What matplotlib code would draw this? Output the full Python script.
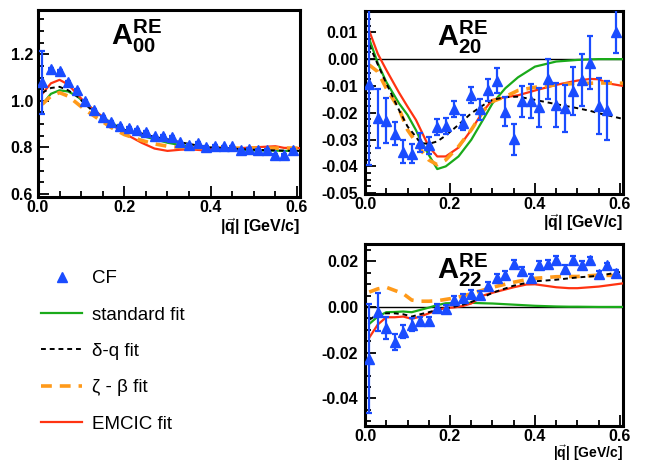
import matplotlib
matplotlib.use("Agg")
import matplotlib.pyplot as plt
from matplotlib.ticker import MultipleLocator, FuncFormatter
from matplotlib.lines import Line2D
import numpy as np

plt.rcParams['font.family'] = ['Liberation Sans', 'DejaVu Sans']
plt.rcParams['mathtext.fontset'] = 'custom'
plt.rcParams['mathtext.rm'] = 'Liberation Sans'
plt.rcParams['mathtext.bf'] = 'Liberation Sans:bold'
plt.rcParams['mathtext.it'] = 'Liberation Sans:italic'

# ---------------- data ----------------
q_pts = [0.01, 0.03, 0.05, 0.07, 0.09, 0.11, 0.13, 0.15, 0.17, 0.19,
         0.21, 0.23, 0.25, 0.27, 0.29, 0.31, 0.33, 0.35, 0.37, 0.39,
         0.41, 0.43, 0.45, 0.47, 0.49, 0.51, 0.53, 0.55, 0.57, 0.59]

# A00
a00_cf = [1.08, 1.135, 1.13, 1.081, 1.047, 1.0, 0.962, 0.93, 0.911, 0.893,
          0.883, 0.876, 0.866, 0.847, 0.85, 0.844, 0.821, 0.811, 0.818, 0.80,
          0.807, 0.804, 0.804, 0.787, 0.794, 0.787, 0.79, 0.769, 0.767, 0.79]
a00_err = [0.135] + [0.004] * 29

q_fit00 = [0.01, 0.03, 0.05, 0.07, 0.09, 0.11, 0.13, 0.15, 0.17, 0.20, 0.24,
           0.27, 0.30, 0.33, 0.35, 0.38, 0.40, 0.45, 0.50, 0.55, 0.57, 0.607]
a00_std = [0.985, 1.03, 1.045, 1.04, 1.02, 0.99, 0.96, 0.93, 0.905, 0.875, 0.85,
           0.835, 0.82, 0.81, 0.805, 0.80, 0.795, 0.79, 0.787, 0.786, 0.785, 0.785]
a00_dq = [1.035, 1.055, 1.06, 1.045, 1.02, 0.985, 0.95, 0.92, 0.9, 0.875, 0.86,
          0.845, 0.835, 0.822, 0.815, 0.805, 0.80, 0.795, 0.79, 0.787, 0.786, 0.785]
a00_zb = [0.985, 1.02, 1.035, 1.02, 0.99, 0.96, 0.935, 0.91, 0.885, 0.855, 0.83,
          0.815, 0.805, 0.80, 0.80, 0.798, 0.798, 0.797, 0.797, 0.797, 0.797, 0.797]
a00_em = [1.03, 1.075, 1.09, 1.07, 1.03, 0.99, 0.96, 0.93, 0.9, 0.86, 0.82,
          0.795, 0.785, 0.79, 0.792, 0.788, 0.793, 0.795, 0.80, 0.805, 0.798, 0.797]

# A20
a20_cf = [-0.0094, -0.022, -0.0229, -0.0279, -0.0345, -0.0353, -0.0311, -0.0322,
          -0.0254, -0.0248, -0.0186, -0.0237, -0.0133, -0.0187, -0.0115, -0.0081,
          -0.0196, -0.0299, -0.0158, -0.0156, -0.018, -0.0074, -0.0171, -0.0183,
          -0.0119, -0.0078, -0.0013, -0.0174, -0.019, 0.0102]
a20_err = [0.030, 0.011, 0.0085, 0.0043, 0.0043, 0.0035, 0.0037, 0.003, 0.003, 0.003,
           0.003, 0.0027, 0.003, 0.004, 0.004, 0.0047, 0.0053, 0.0057, 0.0058, 0.0065,
           0.0073, 0.0076, 0.0083, 0.0087, 0.009, 0.0098, 0.010, 0.0104, 0.011, 0.008]

q_fit20 = [0.01, 0.03, 0.05, 0.08, 0.10, 0.12, 0.13, 0.15, 0.17, 0.19, 0.22, 0.25,
           0.28, 0.30, 0.33, 0.36, 0.40, 0.45, 0.50, 0.53, 0.55, 0.57, 0.607]
a20_std = [0.0075, -0.0015, -0.0085, -0.0165, -0.0208, -0.0265, -0.030, -0.0357,
           -0.041, -0.040, -0.0363, -0.0301, -0.022, -0.0165, -0.0109, -0.0068,
           -0.0028, -0.0009, -0.0003, -0.0001, 0.0, 0.0, 0.0]
a20_dq = [0.0053, -0.002, -0.009, -0.019, -0.0251, -0.029, -0.0313, -0.0316,
          -0.0307, -0.0285, -0.0245, -0.0202, -0.017, -0.0152, -0.0142, -0.014,
          -0.0152, -0.0168, -0.0183, -0.0193, -0.0202, -0.0209, -0.0223]
a20_zb = [-0.0022, -0.0047, -0.0109, -0.0185, -0.0264, -0.031, -0.0336, -0.0376,
          -0.0394, -0.0376, -0.0326, -0.0264, -0.019, -0.0158, -0.014, -0.0117,
          -0.0105, -0.0096, -0.009, -0.009, -0.0089, -0.0089, -0.009]
a20_em = [0.0105, 0.002, -0.004, -0.0125, -0.0177, -0.0227, -0.026, -0.0326,
          -0.0363, -0.0363, -0.0330, -0.0264, -0.019, -0.0152, -0.0142, -0.0135,
          -0.0117, -0.0096, -0.008, -0.0074, -0.0075, -0.009, -0.010]

# A22
a22_cf = [-0.0227, -0.002, -0.0094, -0.0153, -0.0109, -0.0077, -0.006, -0.0063,
          -0.0003, -0.0009, 0.0029, 0.0039, 0.0058, 0.0051, 0.0093, 0.0126,
          0.0139, 0.0189, 0.0157, 0.0125, 0.0182, 0.0189, 0.0204, 0.0167, 0.0204,
          0.0182, 0.0203, 0.0143, 0.0182, 0.015]
a22_err = [0.0238, 0.0083, 0.0048, 0.0036, 0.0028, 0.0028, 0.0016, 0.0017, 0.0017,
           0.0017, 0.0017, 0.0017, 0.0017, 0.0017, 0.0017, 0.0017, 0.0017, 0.0017,
           0.0017, 0.0017, 0.0017, 0.0017, 0.0017, 0.0017, 0.0017, 0.0017, 0.0017,
           0.0012, 0.0012, 0.0012]

q_fit22 = [0.01, 0.03, 0.05, 0.07, 0.09, 0.11, 0.13, 0.15, 0.17, 0.19, 0.21, 0.23,
           0.25, 0.28, 0.30, 0.35, 0.38, 0.40, 0.45, 0.48, 0.50, 0.55, 0.607]
a22_std = [-0.0074, -0.0042, -0.0023, -0.0022, -0.002, -0.0023, -0.0013, -0.0003,
           0.0008, 0.0016, 0.0017, 0.0018, 0.0018, 0.0016, 0.0015, 0.001, 0.0007,
           0.0005, 0.0002, 0.0001, 0.0001, 0.0, 0.0]
a22_dq = [-0.0056, -0.0032, -0.0028, -0.0028, -0.0032, -0.0042, -0.0032, -0.0023,
          -0.0013, -0.0006, 0.0001, 0.001, 0.0022, 0.0044, 0.0062, 0.0093, 0.0105,
          0.0112, 0.0119, 0.0125, 0.0129, 0.0136, 0.0155]
a22_zb = [0.0065, 0.0079, 0.0086, 0.0072, 0.0058, 0.003, 0.0025, 0.0025, 0.0027,
          0.0033, 0.0039, 0.0048, 0.0058, 0.0075, 0.0086, 0.0108, 0.0119, 0.0125,
          0.0132, 0.0133, 0.0133, 0.0139, 0.0136]
a22_em = [-0.0134, -0.0077, -0.0045, -0.0045, -0.0042, -0.0052, -0.0042, -0.0028,
          -0.0013, -0.0005, -0.0002, 0.0004, 0.0015, 0.0051, 0.0062, 0.0086, 0.0098,
          0.0099, 0.0086, 0.0082, 0.0082, 0.0089, 0.0103]

legend_labels = ["CF", "standard fit", "\u03b4-q fit", "\u03b6 - \u03b2 fit", "EMCIC fit"]
xlabel_text = r'$\mathbf{|}\vec{\mathbf{q}}\mathbf{|}$ [GeV/c]'

# ---------------- style ----------------
C_CF = '#1a4cff'
C_STD = '#1aaa1a'
C_DQ = 'black'
C_ZB = '#ff9a1a'
C_EM = '#ff3311'

fig = plt.figure(figsize=(6.48, 4.63), dpi=100)


def make_fmt(nd):
    def f(v, pos):
        s = f"{v:.{nd}f}"
        if float(s) == 0:
            s = s.lstrip('-')
        return s
    return FuncFormatter(f)


def style_axes(ax, xlim, ylim, ymaj, ymin, nd, xpad, ypad):
    ax.set_xlim(*xlim)
    ax.set_ylim(*ylim)
    ax.xaxis.set_major_locator(MultipleLocator(0.2))
    ax.xaxis.set_minor_locator(MultipleLocator(0.05))
    ax.yaxis.set_major_locator(MultipleLocator(ymaj))
    ax.yaxis.set_minor_locator(MultipleLocator(ymin))
    ax.xaxis.set_major_formatter(make_fmt(1))
    ax.yaxis.set_major_formatter(make_fmt(nd))
    for s in ax.spines.values():
        s.set_linewidth(2.2)
    ax.tick_params(which='both', direction='in', top=False, right=False,
                   width=1.3, labelsize=11.5)
    ax.tick_params(axis='x', pad=xpad)
    ax.tick_params(axis='y', pad=ypad)
    ax.tick_params(which='major', length=8)
    ax.tick_params(which='minor', length=4)
    for lab in ax.get_xticklabels() + ax.get_yticklabels():
        lab.set_fontweight('bold')


def draw(ax, qf, std, dq, zb, em, cf, err):
    ax.plot(qf, std, color=C_STD, lw=1.6, zorder=3)
    ax.plot(qf, em, color=C_EM, lw=1.6, zorder=3)
    ax.plot(qf, zb, color=C_ZB, lw=2.6, ls=(0, (3, 2.2)), zorder=3)
    ax.plot(qf, dq, color=C_DQ, lw=1.4, ls=(0, (2.5, 2)), zorder=4)
    ax.errorbar(q_pts, cf, yerr=err, fmt='^', color=C_CF, ms=6.5, mec=C_CF,
                elinewidth=1.6, capsize=2.5, capthick=1.6, zorder=5, clip_on=True)


ax1 = fig.add_axes([0.0586, 0.5745, 0.4043, 0.404])
draw(ax1, q_fit00, a00_std, a00_dq, a00_zb, a00_em, a00_cf, a00_err)
style_axes(ax1, (0, 0.607), (0.587, 1.39), 0.2, 0.05, 1, 2.5, 3.5)
ax1.text(1.0, -0.1, xlabel_text, transform=ax1.transAxes, ha='right', va='top',
         fontsize=11.5, fontweight='bold')
ax1.text(0.28, 0.86, r'$\mathbf{A}^{\mathbf{RE}}_{\mathbf{00}}$', transform=ax1.transAxes,
         ha='left', va='center', fontsize=21)

ax2 = fig.add_axes([0.5633, 0.581, 0.398, 0.395])
ax2.axhline(0, color='black', lw=1.0, zorder=2)
draw(ax2, q_fit20, a20_std, a20_dq, a20_zb, a20_em, a20_cf, a20_err)
style_axes(ax2, (0, 0.607), (-0.0503, 0.0179), 0.01, 0.0025, 2, 2.5, 5)
ax2.text(1.0, -0.1, xlabel_text, transform=ax2.transAxes, ha='right', va='top',
         fontsize=11.5, fontweight='bold')
ax2.text(0.28, 0.855, r'$\mathbf{A}^{\mathbf{RE}}_{\mathbf{20}}$', transform=ax2.transAxes,
         ha='left', va='center', fontsize=21)

ax3 = fig.add_axes([0.5633, 0.079, 0.398, 0.394])
ax3.axhline(0, color='black', lw=1.0, zorder=2)
draw(ax3, q_fit22, a22_std, a22_dq, a22_zb, a22_em, a22_cf, a22_err)
style_axes(ax3, (0, 0.607), (-0.0522, 0.0275), 0.02, 0.005, 2, 1.5, 5)
fig.text(0.5633 + 0.398, 0.001, xlabel_text, ha='right', va='bottom',
         fontsize=10, fontweight='bold')
ax3.text(0.28, 0.855, r'$\mathbf{A}^{\mathbf{RE}}_{\mathbf{22}}$', transform=ax3.transAxes,
         ha='left', va='center', fontsize=21)

# legend in lower-left area
handles = [
    Line2D([], [], color=C_CF, marker='^', ls='none', ms=6.5),
    Line2D([], [], color=C_STD, lw=1.6),
    Line2D([], [], color=C_DQ, lw=1.4, ls=(0, (2.5, 2))),
    Line2D([], [], color=C_ZB, lw=2.6, ls=(0, (3, 2.2))),
    Line2D([], [], color=C_EM, lw=1.6),
]
fig.legend(handles, legend_labels, loc='upper left', bbox_to_anchor=(0.052, 0.433),
           frameon=False, fontsize=13.5, handlelength=2.2, handletextpad=0.5,
           labelspacing=1.03, borderaxespad=0)

fig.savefig('out.png', dpi=100)
